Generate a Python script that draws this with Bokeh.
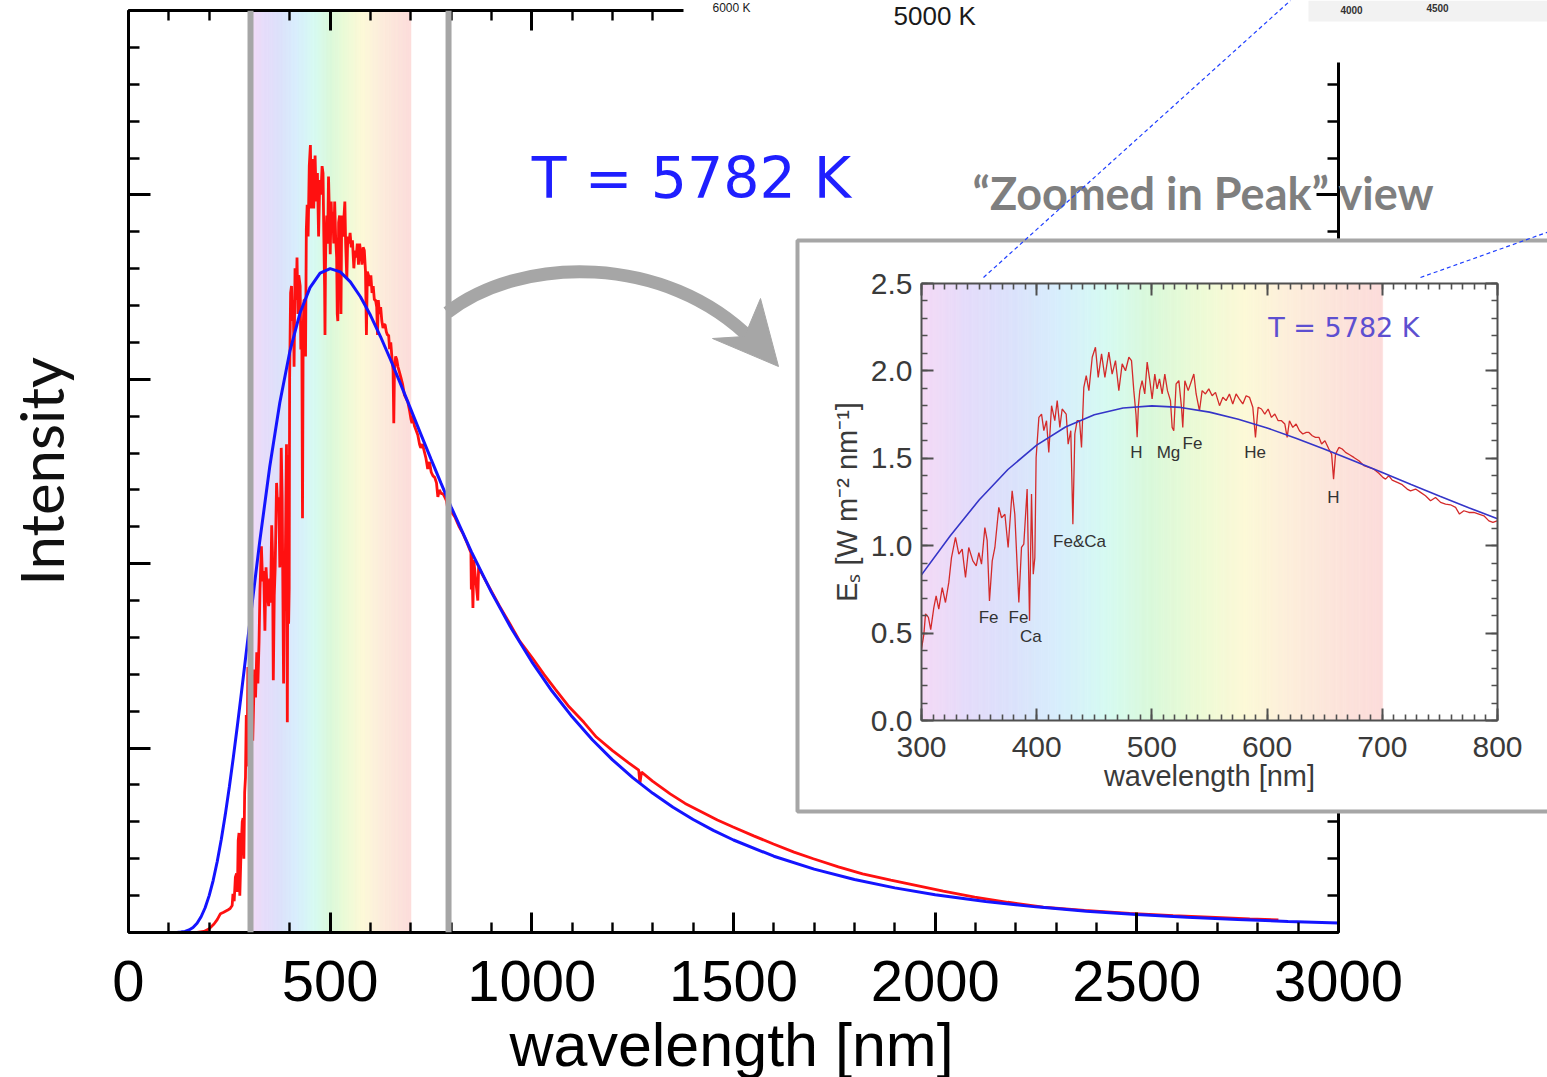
import numpy as np
from bokeh.plotting import figure
from bokeh.models import (Range1d, LinearAxis, Span, SingleIntervalTicker,
                          NumeralTickFormatter, ColumnDataSource)
from bokeh.layouts import column
from bokeh.embed import file_html
from bokeh.resources import INLINE
from bokeh.core.properties import value

# ---------------- data ----------------
# black-body curve (T = 5782 K), spectral irradiance [W m^-2 nm^-1]
planck_wl = [120, 130, 140, 150, 160, 170, 180, 190, 200, 210, 220, 230, 240, 250,
             260, 270, 280, 290, 300, 325, 350, 375, 400, 425, 450, 475, 500, 525,
             550, 575, 600, 625, 650, 675, 700, 725, 750, 775, 800, 850, 900, 950,
             1000, 1050, 1100, 1150, 1200, 1250, 1300, 1350, 1400, 1450, 1500, 1600,
             1700, 1800, 1900, 2000, 2125, 2250, 2375, 2500, 2625, 2750, 2875, 3000]
planck_val = [0.0003, 0.0011, 0.0029, 0.0067, 0.0136, 0.0251, 0.0427, 0.0671, 0.1000,
              0.1416, 0.1924, 0.2520, 0.3197, 0.3946, 0.4756, 0.5614, 0.6505, 0.7416,
              0.8332, 1.0571, 1.2615, 1.4359, 1.5755, 1.6790, 1.7486, 1.7877, 1.8000,
              1.7911, 1.7643, 1.7238, 1.6735, 1.6153, 1.5523, 1.4862, 1.4184, 1.3506,
              1.2834, 1.2176, 1.1536, 1.0328, 0.9223, 0.8227, 0.7339, 0.6547, 0.5847,
              0.5228, 0.4682, 0.4200, 0.3774, 0.3398, 0.3065, 0.2770, 0.2508, 0.2068,
              0.1718, 0.1437, 0.1210, 0.1025, 0.0840, 0.0695, 0.0579, 0.0486, 0.0411,
              0.0350, 0.0300, 0.0258]

# measured solar spectrum, UV part
solar_uv_wl = [145, 170, 187, 200, 212, 220, 228, 236, 245, 252, 257, 259, 262, 265, 268,
               270, 272, 274, 276, 279, 282, 284, 286, 288, 290, 292, 294, 296, 298]
solar_uv_val = [0.0, 0.0, 0.003, 0.01, 0.023, 0.035, 0.051, 0.055, 0.06, 0.065, 0.073,
                0.105, 0.085, 0.15, 0.16, 0.11, 0.25, 0.27, 0.10, 0.22, 0.30, 0.31,
                0.20, 0.38, 0.42, 0.59, 0.45, 0.72, 0.62]
# visible part
solar_vis_wl = [300, 302, 303.5, 306, 308, 310.7, 312.7, 315, 318, 320.8,
                323.7, 326, 329.5, 332.4, 335.3, 338.2, 341, 344.6, 347.5, 349.8,
                352.1, 355, 357, 359, 361.4, 363.7, 367.1, 369.5, 372.4, 375.2,
                378.7, 381, 384.5, 386.8, 388.8, 391.7, 393.8, 395.5, 397, 398.4,
                399.5, 401.9, 404.2, 406.2, 408.5, 410.5, 412.9, 415.7, 417.8, 420.1,
                422.1, 425.6, 427.3, 429.6, 431.4, 433.1, 435.1, 437.2, 438.9, 440.9,
                443, 445.3, 448.2, 451, 453.4, 456.3, 459.2, 462.6, 465.5, 468.4,
                471.3, 474.2, 477.1, 480, 482.3, 484.3, 486.2, 487.2, 488.3, 489.5,
                491.5, 493.8, 495.9, 498.2, 500.2, 502.5, 504.5, 506.6, 508.9, 511.2,
                513.5, 516.1, 517.6, 519, 521, 523.4, 525.7, 526.8, 528.6, 531.5,
                534.4, 536.4, 538.4, 541.3, 543.6, 546.5, 549.4, 552.3, 555.2, 558.7,
                561.6, 564.4, 567.3, 570.2, 573.1, 576, 578.9, 581.8, 584.7, 587.6,
                589.9, 592.2, 595.1, 598, 600.9, 603.8, 606.7, 609.6, 612.5, 615.4,
                617.4, 619.4, 622.3, 625.2, 628.1, 631, 634, 636.3, 639.2, 642,
                645, 647.3, 650.2, 653.6, 656, 657.7, 659.4, 662.3, 665.2, 668.1,
                671.6, 675.3, 679.7, 684, 688.4, 692.7, 697, 700.5, 702.8, 705.7,
                708.6, 713, 717.3, 721.6, 724.5, 728.9, 733.2, 737.5, 741.9, 746.2,
                750.6, 754.9, 759.2, 763.6, 767, 770.8, 775.2, 779.5, 783.8, 788.2,
                792.5, 796, 799.7]
solar_vis_val = [0.41, 0.49, 0.61, 0.59, 0.52, 0.646, 0.713, 0.637, 0.76, 0.675,
                 0.79, 0.93, 1.047, 0.952, 0.98, 0.818, 0.99, 0.913, 0.885, 0.96,
                 0.894, 1.104, 1.03, 0.684, 0.913, 0.99, 1.219, 1.16, 1.18, 0.99,
                 1.314, 1.18, 0.675, 0.99, 1.009, 1.324, 0.57, 1.295, 0.837, 0.932,
                 1.505, 1.734, 1.753, 1.658, 1.715, 1.534, 1.801, 1.715, 1.83, 1.677,
                 1.782, 1.753, 1.581, 1.658, 1.123, 1.639, 1.715, 1.715, 1.562, 1.906,
                 1.973, 1.887, 2.078, 2.135, 1.963, 2.097, 1.963, 2.107, 1.982, 2.059,
                 1.887, 2.04, 2.001, 2.078, 2.059, 1.887, 1.75, 1.62, 1.80, 1.887,
                 1.944, 1.868, 2.05, 1.944, 1.839, 1.982, 1.897, 1.954, 1.868, 1.982,
                 1.887, 1.83, 1.677, 1.658, 1.925, 1.944, 1.791, 1.677, 1.944, 1.887,
                 1.944, 1.982, 1.868, 1.772, 1.887, 1.868, 1.897, 1.858, 1.877, 1.801,
                 1.849, 1.83, 1.868, 1.811, 1.868, 1.839, 1.811, 1.858, 1.849, 1.792,
                 1.62, 1.792, 1.782, 1.753, 1.782, 1.734, 1.753, 1.715, 1.715, 1.696,
                 1.62, 1.715, 1.677, 1.696, 1.658, 1.639, 1.648, 1.648, 1.629, 1.62,
                 1.62, 1.582, 1.6, 1.553, 1.524, 1.381, 1.524, 1.562, 1.553, 1.534,
                 1.52, 1.505, 1.486, 1.458, 1.448, 1.438, 1.414, 1.391, 1.381, 1.4,
                 1.375, 1.362, 1.349, 1.324, 1.314, 1.324, 1.305, 1.286, 1.257, 1.276,
                 1.248, 1.238, 1.234, 1.219, 1.181, 1.2, 1.19, 1.19, 1.181, 1.171,
                 1.142, 1.133, 1.142]
# infrared tail
solar_ir_wl = [810, 820, 830, 840, 849, 850, 851, 854, 856, 866, 868, 880, 900, 920, 944,
               970, 1001, 1030, 1058, 1090, 1129, 1160, 1200, 1240, 1265, 1268, 1272,
               1300, 1343, 1380, 1414, 1460, 1499, 1550, 1599, 1650, 1698, 1760, 1820,
               1890, 1955, 2020, 2098, 2180, 2268, 2370, 2482, 2590, 2695, 2780, 2851]
solar_ir_val = [1.125, 1.10, 1.08, 1.055, 1.03, 0.93, 1.02, 0.88, 1.01, 0.90, 0.99, 0.965,
                0.925, 0.885, 0.84, 0.79, 0.745, 0.70, 0.66, 0.615, 0.57, 0.53, 0.493,
                0.46, 0.44, 0.405, 0.435, 0.41, 0.376, 0.35, 0.331, 0.305, 0.286, 0.262,
                0.24, 0.218, 0.20, 0.178, 0.159, 0.142, 0.127, 0.112, 0.096, 0.082, 0.069,
                0.06, 0.052, 0.046, 0.041, 0.037, 0.034]

# absorption-line labels in the zoomed panel
line_labels = ["Fe", "Fe", "Ca", "Fe&Ca", "H", "Mg", "Fe", "He", "H"]
line_label_wl = [358.2, 384.2, 395.0, 437.2, 486.6, 514.4, 535.2, 589.5, 657.6]
line_label_val = [0.59, 0.59, 0.478, 1.026, 1.532, 1.532, 1.584, 1.532, 1.274]

# pale visible-spectrum band
rainbow_nm = [300, 340, 380, 420, 460, 500, 540, 580, 620, 660, 700]
rainbow_col = ["#f5daf6", "#e4dcfa", "#dbe2fb", "#d7eefc", "#d6faf2", "#daf9da",
               "#ecfad6", "#fcf9d7", "#fdeedb", "#fce4db", "#fcdcdb"]

temperature_label = "T = 5782 K"

solar_wl = solar_uv_wl + solar_vis_wl + solar_ir_wl
solar_val = solar_uv_val + solar_vis_val + solar_ir_val
n = min(len(solar_wl), len(solar_val))
solar_wl, solar_val = solar_wl[:n], solar_val[:n]


def rainbow_source(step=2.0):
    edges = np.arange(rainbow_nm[0], rainbow_nm[-1] + 1e-6, step)
    mids = (edges[:-1] + edges[1:]) / 2
    rgb = np.array([[int(c[i:i + 2], 16) for i in (1, 3, 5)] for c in rainbow_col], float)
    chans = [np.interp(mids, rainbow_nm, rgb[:, k]) for k in range(3)]
    cols = ["#%02x%02x%02x" % (int(round(r)), int(round(g)), int(round(b)))
            for r, g, b in zip(*chans)]
    return ColumnDataSource(dict(left=edges[:-1], right=edges[1:] + 0.3, color=cols))


def style_axis(ax, tick_in, minor_in, lw=3, color="black"):
    ax.axis_line_width = lw
    ax.axis_line_color = color
    ax.major_tick_line_width = lw
    ax.major_tick_line_color = color
    ax.minor_tick_line_width = lw * 0.8
    ax.minor_tick_line_color = color
    ax.major_tick_in = tick_in
    ax.major_tick_out = 0
    ax.minor_tick_in = minor_in
    ax.minor_tick_out = 0


def hide_labels(ax):
    ax.major_label_text_font_size = "0px"
    ax.major_label_text_color = None
    ax.major_label_standoff = 0


# whole picture in page pixels (Bokeh's page template has no body margin)
W, H = 1547, 1077

# ---------------- main plot ----------------
main = figure(width=W, height=H, x_range=Range1d(0, 3000), y_range=Range1d(0, 2.5),
              output_backend="svg", toolbar_location=None, frame_align=False,
              min_border_left=128, min_border_right=209, min_border_top=10,
              min_border_bottom=145, outline_line_color=None)
main.grid.visible = False

main.quad(left="left", right="right", bottom=0, top=2.5, fill_color="color",
          line_color="color", line_width=0.5, source=rainbow_source())
for loc in (302.5, 793.5):
    main.add_layout(Span(location=loc, dimension="height", line_color="#a6a6a6",
                         line_width=6))
main.line(solar_wl, solar_val, line_color="#ff1010", line_width=2.8)
main.line(planck_wl, planck_val, line_color="#1414ff", line_width=3)
main.text(x=[1000], y=[2.047], text=[temperature_label], text_font=value("DejaVu Sans"),
          text_font_size="57px", text_color="#1f1fff", text_baseline="alphabetic")

xa = main.xaxis[0]
xa.ticker = SingleIntervalTicker(interval=500, num_minor_ticks=5)
style_axis(xa, 20, 10)
xa.major_label_text_font = "Liberation Sans"
xa.major_label_text_font_size = "58px"
xa.major_label_text_color = "black"
xa.major_label_standoff = 28

ya = main.yaxis[0]
ya.ticker = SingleIntervalTicker(interval=0.5, num_minor_ticks=5)
style_axis(ya, 22, 11)
hide_labels(ya)
ya.axis_label = "Intensity"
ya.axis_label_text_font = "Lato"
ya.axis_label_text_font_size = "60px"
ya.axis_label_text_font_style = "normal"
ya.axis_label_text_color = "#111111"
ya.axis_label_standoff = 52

top_ax = LinearAxis(ticker=SingleIntervalTicker(interval=500, num_minor_ticks=5),
                    bounds=(0, 1375))
style_axis(top_ax, 20, 10)
hide_labels(top_ax)
main.add_layout(top_ax, "above")

right_ax = LinearAxis(ticker=SingleIntervalTicker(interval=0.5, num_minor_ticks=5),
                      bounds=(0, 2.36))
style_axis(right_ax, 22, 11)
hide_labels(right_ax)
main.add_layout(right_ax, "right")

# ---------------- zoomed-in inset ----------------
inset = figure(width=752, height=575, x_range=Range1d(300, 800), y_range=Range1d(0, 2.5),
               output_backend="svg", toolbar_location=None, frame_align=False,
               min_border_left=126, min_border_right=50, min_border_top=45,
               min_border_bottom=93, outline_line_color=None,
               background_fill_color="white", border_fill_color="white")
inset.grid.visible = False
inset.margin = (238 - H, 0, 0, 795)

inset.quad(left="left", right="right", bottom=0, top=2.5, fill_color="color",
           line_color="color", line_width=0.5, source=rainbow_source())
inset.line(solar_wl, solar_val, line_color="#d42a2a", line_width=1.3)
inset.line(planck_wl, planck_val, line_color="#3535c8", line_width=1.6)
inset.text(x=line_label_wl, y=line_label_val, text=line_labels,
           text_font=value("Liberation Sans"), text_font_size="17px",
           text_color="#333333", text_align="center", text_baseline="alphabetic")
inset.text(x=[601], y=[2.25], text=[temperature_label], text_font=value("DejaVu Sans"),
           text_font_size="27px", text_color="#5d4fd0", text_baseline="alphabetic")

ixa = inset.xaxis[0]
ixa.ticker = SingleIntervalTicker(interval=100, num_minor_ticks=10)
style_axis(ixa, 12, 6, lw=2, color="#505050")
ixa.major_label_text_font = "Liberation Sans"
ixa.major_label_text_font_size = "30px"
ixa.major_label_text_color = "#3a3a3a"
ixa.major_label_standoff = 16
ixa.axis_label = "wavelength [nm]"
ixa.axis_label_text_font = "Liberation Sans"
ixa.axis_label_text_font_size = "29px"
ixa.axis_label_text_font_style = "normal"
ixa.axis_label_text_color = "#3a3a3a"
ixa.axis_label_standoff = 0

iya = inset.yaxis[0]
iya.ticker = SingleIntervalTicker(interval=0.5, num_minor_ticks=5)
iya.formatter = NumeralTickFormatter(format="0.0")
style_axis(iya, 12, 6, lw=2, color="#505050")
iya.major_label_text_font = "Liberation Sans"
iya.major_label_text_font_size = "30px"
iya.major_label_text_color = "#3a3a3a"
iya.major_label_standoff = 9
iya.axis_label = "Eₛ [W m⁻² nm⁻¹]"
iya.axis_label_text_font = "Liberation Sans"
iya.axis_label_text_font_size = "29px"
iya.axis_label_text_font_style = "normal"
iya.axis_label_text_color = "#3a3a3a"
iya.axis_label_standoff = 5

for side, ticker in (("above", SingleIntervalTicker(interval=100, num_minor_ticks=10)),
                     ("right", SingleIntervalTicker(interval=0.5, num_minor_ticks=5))):
    ax = LinearAxis(ticker=ticker)
    style_axis(ax, 12, 6, lw=2, color="#505050")
    hide_labels(ax)
    inset.add_layout(ax, side)

# ---------------- overlay (page pixel coordinates) ----------------
ov = figure(width=W, height=H, x_range=Range1d(0, W), y_range=Range1d(H, 0),
            x_axis_location=None, y_axis_location=None, min_border=0, frame_align=False,
            outline_line_color=None, background_fill_color=None, border_fill_color=None,
            output_backend="svg", toolbar_location=None)
ov.grid.visible = False
ov.margin = (-(238 + 575), 0, 0, 0)

# main x-axis title
ov.text(x=[731], y=[1044], text=["wavelength [nm]"], text_font=value("Liberation Sans"),
        text_font_size="61px", text_color="black", text_align="center",
        text_baseline="alphabetic")
# inset frame
ov.quad(left=[797], right=[1551], top=[240], bottom=[811], fill_color=None,
        line_color="#a6a6a6", line_width=4)
# fragments of neighbouring picture at the top
ov.quad(left=[1308], right=[1547], top=[0], bottom=[21], fill_color="#f2f2f2",
        line_color=None)
ov.text(x=[1351, 1437], y=[9, 7], text=["4000", "4500"],
        text_font=value("Liberation Sans"), text_font_size="10px",
        text_font_style="bold", text_color="#333333", text_align="center",
        text_baseline="alphabetic")
ov.text(x=[712], y=[7], text=["6000 K"], text_font=value("Liberation Sans"),
        text_font_size="12px", text_color="#1a1a1a", text_baseline="alphabetic")
ov.text(x=[893], y=[15], text=["5000 K"], text_font=value("Liberation Sans"),
        text_font_size="26px", text_color="#1a1a1a", text_baseline="alphabetic")
# title of the zoomed view
ov.text(x=[972], y=[192], text=["“Zoomed in Peak” view"], text_font=value("Lato"),
        text_font_style="bold", text_font_size="45px", text_color="#7f7f7f",
        text_baseline="alphabetic")
# zoom connector lines
ov.segment(x0=[983, 1420], y0=[277, 277], x1=[1290, 1549], y1=[0, 231],
           line_color="#1f3fff", line_width=1.2, line_dash="4 3")
# curved arrow
ov.bezier(x0=[447], y0=[312], x1=[752], y1=[340], cx0=[520], cy0=[255],
          cx1=[665], cy1=[252], line_color="#a6a6a6", line_width=13)
ov.patch(x=[778, 712, 744, 760], y=[366, 338, 336, 298], color="#a6a6a6")

layout = column(main, inset, ov, spacing=0)
with open("out.html", "w", encoding="utf-8") as f:
    f.write(file_html(layout, INLINE))
